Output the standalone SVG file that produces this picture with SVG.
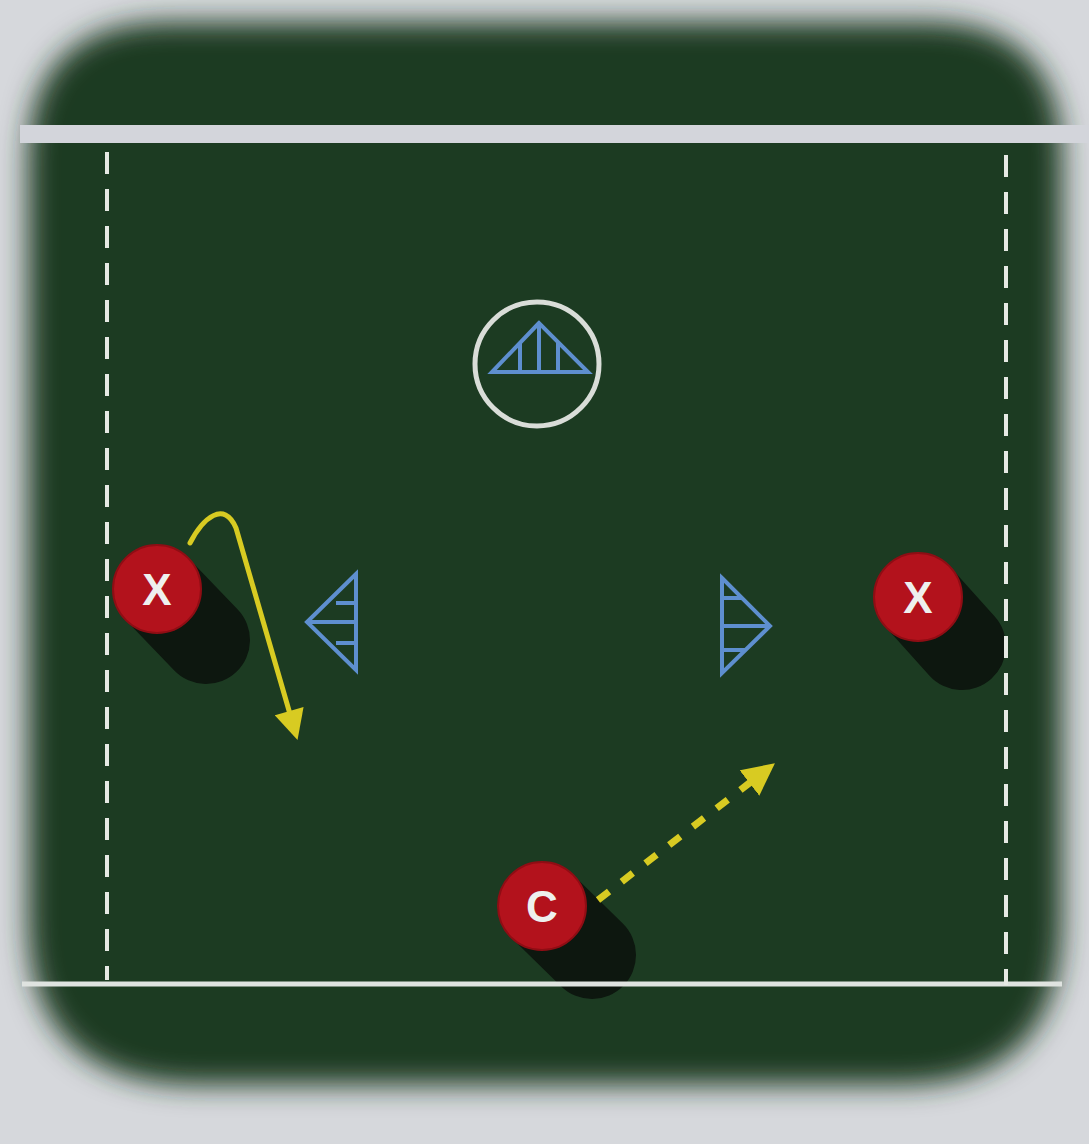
<svg xmlns="http://www.w3.org/2000/svg" width="1089" height="1144" viewBox="0 0 1089 1144">
  <style>
    .cone { fill: none; stroke: #5e8fcf; stroke-width: 4; stroke-linejoin: miter; }
    .dash { stroke: #e6e9e4; stroke-width: 4; stroke-dasharray: 22 15; fill: none; }
    .shadow { stroke: #0d170f; stroke-width: 88; stroke-linecap: round; }
    .disc { fill: #b3121c; stroke: #8f0d14; stroke-width: 2; }
    .lbl { font-family: "Liberation Sans", Arial, sans-serif; font-weight: bold; font-size: 44px; fill: #eef0ee; text-anchor: middle; }
    .run { fill: none; stroke: #d8cb22; stroke-width: 5; stroke-linecap: round; stroke-linejoin: round; }
    .pass { fill: none; stroke: #d8cb22; stroke-width: 7; stroke-dasharray: 14 16; }
  </style>
  <defs>
    <filter id="soft" x="-10%" y="-10%" width="120%" height="120%">
      <feGaussianBlur stdDeviation="14"/>
    </filter>
    <marker id="ah" viewBox="0 0 10 10" refX="1" refY="5" markerWidth="6.4" markerHeight="6" orient="auto" markerUnits="strokeWidth">
      <path d="M0,0 L10,5 L0,10 z" fill="#d8cb22"/>
    </marker>
    <marker id="ah2" viewBox="0 0 10 10" refX="1" refY="5" markerWidth="4.6" markerHeight="4.6" orient="auto" markerUnits="strokeWidth">
      <path d="M0,0 L10,5 L0,10 z" fill="#d8cb22"/>
    </marker>
  </defs>

  <rect width="1089" height="1144" fill="#d6d8dc"/>
  <path d="M170,22 L925,22 Q1062,22 1062,160 L1062,920 Q1062,1085 900,1085 L200,1085 Q28,1085 28,920 L28,160 Q28,22 170,22 Z" fill="#1c3a20" filter="url(#soft)"/>

  <g id="shadows">
    <line class="shadow" x1="157" y1="589" x2="206" y2="640"/>
    <line class="shadow" x1="918" y1="597" x2="962" y2="646"/>
    <line class="shadow" x1="542" y1="906" x2="592" y2="955"/>
  </g>

  <g id="field">
    <rect x="20" y="125" width="1069" height="18" fill="#d3d5db"/>
    <line x1="22" y1="984" x2="1062" y2="984" stroke="#dfe3e0" stroke-width="5"/>
    <line class="dash" x1="107" y1="152" x2="107" y2="980"/>
    <line class="dash" x1="1006" y1="155" x2="1006" y2="985"/>
  </g>

  <g id="goal">
    <circle cx="537" cy="364" r="62" fill="none" stroke="#d9ddd8" stroke-width="5"/>
    <path class="cone" d="M539,323 L492,372 L588,372 Z M520,343 L520,372 M539,323 L539,372 M558,343 L558,372"/>
  </g>

  <g id="cone-left">
    <path class="cone" d="M356,574 L307,622 L356,670 Z M336,603 L356,603 M307,622 L356,622 M336,643 L356,643"/>
  </g>

  <g id="cone-right">
    <path class="cone" d="M722,578 L770,626 L722,673 Z M722,598 L742,598 M722,626 L770,626 M722,650 L746,650"/>
  </g>

  <g id="player-x-left">
    <circle class="disc" cx="157" cy="589" r="44"/>
    <text class="lbl" x="157" y="605">X</text>
  </g>

  <g id="player-x-right">
    <circle class="disc" cx="918" cy="597" r="44"/>
    <text class="lbl" x="918" y="613">X</text>
  </g>

  <g id="player-c">
    <circle class="disc" cx="542" cy="906" r="44"/>
    <text class="lbl" x="542" y="922">C</text>
  </g>

  <g id="connectors">
    <path class="run" d="M190,543 C203,518 224,500 236,528 L290,714" marker-end="url(#ah)"/>
    <path class="pass" d="M598,900 L752,781" marker-end="url(#ah2)"/>
  </g>
</svg>
